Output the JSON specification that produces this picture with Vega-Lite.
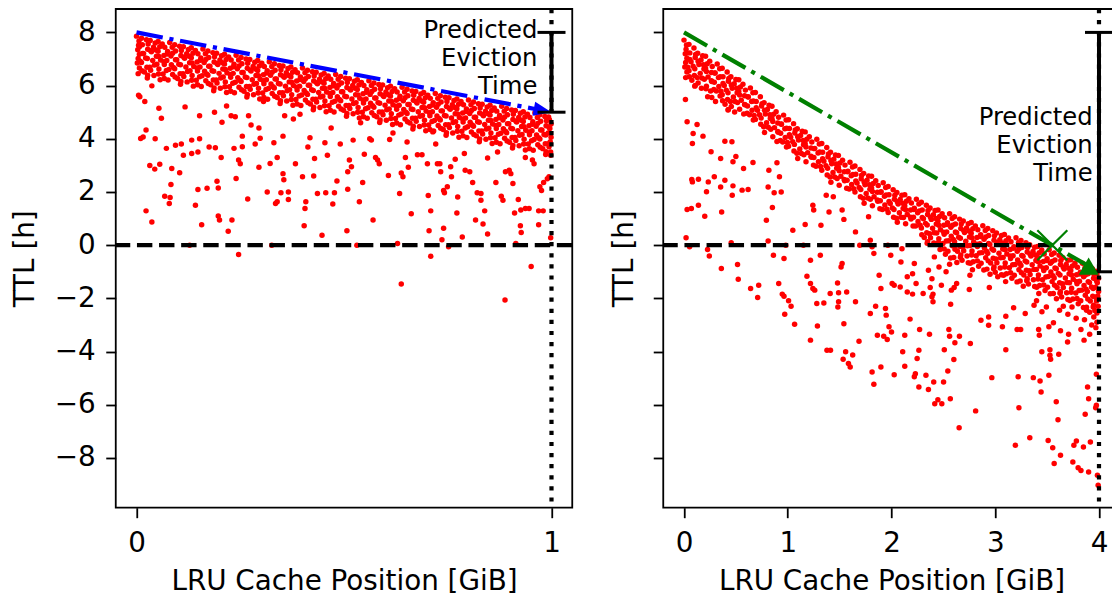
{
"$schema":"https://vega.github.io/schema/vega-lite/v6.json",
"autosize":{"type":"none"},
"padding":{"left":115.75,"top":9,"right":996.25,"bottom":587},
"background":"white",
"config":{
 "font":"DejaVu Sans",
 "view":{"stroke":"black","strokeWidth":1.8},
 "axis":{"grid":false,"domain":false,"tickColor":"black","tickWidth":1.8,"tickSize":10,"labelFont":"DejaVu Sans","labelFontSize":27.8,"labelColor":"black","titleFont":"DejaVu Sans","titleFontSize":27.8,"titleFontWeight":"normal","titleColor":"black","labelFlush":false,"labelOverlap":false}
},
"datasets":{
"L":[
{"x":0,"y":7.86},{"x":0.006,"y":7.68},{"x":0.005,"y":7.52},{"x":0.003,"y":7.35},{"x":0.007,"y":7.18},{"x":0.004,"y":7.02},{"x":0.002,"y":6.85},{"x":0.007,"y":6.66},{"x":0.004,"y":6.45},
{"x":0.024,"y":7.72},{"x":0.014,"y":7.54},{"x":0.027,"y":7.37},{"x":0.017,"y":7.21},{"x":0.022,"y":7.04},{"x":0.012,"y":6.87},{"x":0.025,"y":6.69},{"x":0.019,"y":6.51},{"x":0.026,"y":6.29},
{"x":0.033,"y":7.70},{"x":0.045,"y":7.60},{"x":0.041,"y":7.44},{"x":0.036,"y":7.27},{"x":0.048,"y":7.10},{"x":0.039,"y":6.94},{"x":0.043,"y":6.77},{"x":0.034,"y":6.58},{"x":0.042,"y":6.38},
{"x":0.062,"y":7.56},{"x":0.056,"y":7.46},{"x":0.052,"y":7.29},{"x":0.066,"y":7.13},{"x":0.058,"y":6.96},{"x":0.067,"y":6.79},{"x":0.054,"y":6.62},{"x":0.064,"y":6.44},{"x":0.057,"y":6.22},
{"x":0.080,"y":7.62},{"x":0.086,"y":7.44},{"x":0.075,"y":7.28},{"x":0.083,"y":7.11},{"x":0.073,"y":6.94},{"x":0.084,"y":6.78},{"x":0.078,"y":6.61},{"x":0.087,"y":6.42},{"x":0.076,"y":6.21},
{"x":0.104,"y":7.48},{"x":0.094,"y":7.30},{"x":0.107,"y":7.13},{"x":0.097,"y":6.97},{"x":0.102,"y":6.80},{"x":0.092,"y":6.63},{"x":0.105,"y":6.45},{"x":0.099,"y":6.27},{"x":0.106,"y":6.05},
{"x":0.113,"y":7.46},{"x":0.125,"y":7.36},{"x":0.121,"y":7.20},{"x":0.116,"y":7.03},{"x":0.128,"y":6.86},{"x":0.119,"y":6.70},{"x":0.123,"y":6.53},{"x":0.114,"y":6.34},{"x":0.122,"y":6.14},
{"x":0.142,"y":7.32},{"x":0.136,"y":7.22},{"x":0.132,"y":7.05},{"x":0.146,"y":6.89},{"x":0.138,"y":6.72},{"x":0.147,"y":6.55},{"x":0.134,"y":6.38},{"x":0.144,"y":6.20},{"x":0.137,"y":5.98},
{"x":0.160,"y":7.38},{"x":0.166,"y":7.20},{"x":0.155,"y":7.04},{"x":0.163,"y":6.87},{"x":0.153,"y":6.70},{"x":0.164,"y":6.54},{"x":0.158,"y":6.37},{"x":0.167,"y":6.18},{"x":0.156,"y":5.97},
{"x":0.184,"y":7.24},{"x":0.174,"y":7.06},{"x":0.187,"y":6.89},{"x":0.177,"y":6.73},{"x":0.182,"y":6.56},{"x":0.172,"y":6.39},{"x":0.185,"y":6.21},{"x":0.179,"y":6.03},{"x":0.186,"y":5.81},
{"x":0.193,"y":7.22},{"x":0.205,"y":7.12},{"x":0.201,"y":6.96},{"x":0.196,"y":6.79},{"x":0.208,"y":6.62},{"x":0.199,"y":6.46},{"x":0.203,"y":6.29},{"x":0.194,"y":6.10},{"x":0.202,"y":5.90},
{"x":0.222,"y":7.08},{"x":0.216,"y":6.98},{"x":0.212,"y":6.81},{"x":0.226,"y":6.65},{"x":0.218,"y":6.48},{"x":0.227,"y":6.31},{"x":0.214,"y":6.14},{"x":0.224,"y":5.96},{"x":0.217,"y":5.74},
{"x":0.240,"y":7.14},{"x":0.246,"y":6.96},{"x":0.235,"y":6.80},{"x":0.243,"y":6.63},{"x":0.233,"y":6.46},{"x":0.244,"y":6.30},{"x":0.238,"y":6.13},{"x":0.247,"y":5.94},{"x":0.236,"y":5.73},
{"x":0.264,"y":7.00},{"x":0.254,"y":6.82},{"x":0.267,"y":6.65},{"x":0.257,"y":6.49},{"x":0.262,"y":6.32},{"x":0.252,"y":6.15},{"x":0.265,"y":5.97},{"x":0.259,"y":5.79},{"x":0.266,"y":5.57},
{"x":0.273,"y":6.98},{"x":0.285,"y":6.88},{"x":0.281,"y":6.72},{"x":0.276,"y":6.55},{"x":0.288,"y":6.38},{"x":0.279,"y":6.22},{"x":0.283,"y":6.05},{"x":0.274,"y":5.86},{"x":0.282,"y":5.66},
{"x":0.302,"y":6.84},{"x":0.296,"y":6.74},{"x":0.292,"y":6.57},{"x":0.306,"y":6.41},{"x":0.298,"y":6.24},{"x":0.307,"y":6.07},{"x":0.294,"y":5.90},{"x":0.304,"y":5.72},{"x":0.297,"y":5.50},
{"x":0.320,"y":6.90},{"x":0.326,"y":6.72},{"x":0.315,"y":6.56},{"x":0.323,"y":6.39},{"x":0.313,"y":6.22},{"x":0.324,"y":6.06},{"x":0.318,"y":5.89},{"x":0.327,"y":5.70},{"x":0.316,"y":5.49},
{"x":0.344,"y":6.76},{"x":0.334,"y":6.58},{"x":0.347,"y":6.41},{"x":0.337,"y":6.25},{"x":0.342,"y":6.08},{"x":0.332,"y":5.91},{"x":0.345,"y":5.73},{"x":0.339,"y":5.55},{"x":0.346,"y":5.33},
{"x":0.353,"y":6.74},{"x":0.365,"y":6.64},{"x":0.361,"y":6.48},{"x":0.356,"y":6.31},{"x":0.368,"y":6.14},{"x":0.359,"y":5.98},{"x":0.363,"y":5.81},{"x":0.354,"y":5.62},{"x":0.362,"y":5.42},
{"x":0.382,"y":6.60},{"x":0.376,"y":6.50},{"x":0.372,"y":6.33},{"x":0.386,"y":6.17},{"x":0.378,"y":6.00},{"x":0.387,"y":5.83},{"x":0.374,"y":5.66},{"x":0.384,"y":5.48},{"x":0.377,"y":5.26},
{"x":0.400,"y":6.66},{"x":0.406,"y":6.48},{"x":0.395,"y":6.32},{"x":0.403,"y":6.15},{"x":0.393,"y":5.98},{"x":0.404,"y":5.82},{"x":0.398,"y":5.65},{"x":0.407,"y":5.46},{"x":0.396,"y":5.25},
{"x":0.424,"y":6.52},{"x":0.414,"y":6.34},{"x":0.427,"y":6.17},{"x":0.417,"y":6.01},{"x":0.422,"y":5.84},{"x":0.412,"y":5.67},{"x":0.425,"y":5.49},{"x":0.419,"y":5.31},{"x":0.426,"y":5.09},
{"x":0.433,"y":6.50},{"x":0.445,"y":6.40},{"x":0.441,"y":6.24},{"x":0.436,"y":6.07},{"x":0.448,"y":5.90},{"x":0.439,"y":5.74},{"x":0.443,"y":5.57},{"x":0.434,"y":5.38},{"x":0.442,"y":5.18},
{"x":0.462,"y":6.36},{"x":0.456,"y":6.26},{"x":0.452,"y":6.09},{"x":0.466,"y":5.93},{"x":0.458,"y":5.76},{"x":0.467,"y":5.59},{"x":0.454,"y":5.42},{"x":0.464,"y":5.24},{"x":0.457,"y":5.02},
{"x":0.480,"y":6.42},{"x":0.486,"y":6.24},{"x":0.475,"y":6.08},{"x":0.483,"y":5.91},{"x":0.473,"y":5.74},{"x":0.484,"y":5.58},{"x":0.478,"y":5.41},{"x":0.487,"y":5.22},{"x":0.476,"y":5.01},
{"x":0.504,"y":6.28},{"x":0.494,"y":6.10},{"x":0.507,"y":5.93},{"x":0.497,"y":5.77},{"x":0.502,"y":5.60},{"x":0.492,"y":5.43},{"x":0.505,"y":5.25},{"x":0.499,"y":5.07},{"x":0.506,"y":4.85},
{"x":0.513,"y":6.26},{"x":0.525,"y":6.16},{"x":0.521,"y":6.00},{"x":0.516,"y":5.83},{"x":0.528,"y":5.66},{"x":0.519,"y":5.50},{"x":0.523,"y":5.33},{"x":0.514,"y":5.14},{"x":0.522,"y":4.94},
{"x":0.542,"y":6.12},{"x":0.536,"y":6.02},{"x":0.532,"y":5.85},{"x":0.546,"y":5.69},{"x":0.538,"y":5.52},{"x":0.547,"y":5.35},{"x":0.534,"y":5.18},{"x":0.544,"y":5.00},{"x":0.537,"y":4.78},
{"x":0.560,"y":6.18},{"x":0.566,"y":6.00},{"x":0.555,"y":5.84},{"x":0.563,"y":5.67},{"x":0.553,"y":5.50},{"x":0.564,"y":5.34},{"x":0.558,"y":5.17},{"x":0.567,"y":4.98},{"x":0.556,"y":4.77},
{"x":0.584,"y":6.04},{"x":0.574,"y":5.86},{"x":0.587,"y":5.69},{"x":0.577,"y":5.53},{"x":0.582,"y":5.36},{"x":0.572,"y":5.19},{"x":0.585,"y":5.01},{"x":0.579,"y":4.83},{"x":0.586,"y":4.61},
{"x":0.593,"y":6.02},{"x":0.605,"y":5.92},{"x":0.601,"y":5.76},{"x":0.596,"y":5.59},{"x":0.608,"y":5.42},{"x":0.599,"y":5.26},{"x":0.603,"y":5.09},{"x":0.594,"y":4.90},{"x":0.602,"y":4.70},
{"x":0.622,"y":5.88},{"x":0.616,"y":5.78},{"x":0.612,"y":5.61},{"x":0.626,"y":5.45},{"x":0.618,"y":5.28},{"x":0.627,"y":5.11},{"x":0.614,"y":4.94},{"x":0.624,"y":4.76},{"x":0.617,"y":4.54},
{"x":0.640,"y":5.94},{"x":0.646,"y":5.76},{"x":0.635,"y":5.60},{"x":0.643,"y":5.43},{"x":0.633,"y":5.26},{"x":0.644,"y":5.10},{"x":0.638,"y":4.93},{"x":0.647,"y":4.74},{"x":0.636,"y":4.53},
{"x":0.664,"y":5.80},{"x":0.654,"y":5.62},{"x":0.667,"y":5.45},{"x":0.657,"y":5.29},{"x":0.662,"y":5.12},{"x":0.652,"y":4.95},{"x":0.665,"y":4.77},{"x":0.659,"y":4.59},{"x":0.666,"y":4.37},
{"x":0.673,"y":5.78},{"x":0.685,"y":5.68},{"x":0.681,"y":5.52},{"x":0.676,"y":5.35},{"x":0.688,"y":5.18},{"x":0.679,"y":5.02},{"x":0.683,"y":4.85},{"x":0.674,"y":4.66},{"x":0.682,"y":4.46},
{"x":0.702,"y":5.64},{"x":0.696,"y":5.54},{"x":0.692,"y":5.37},{"x":0.706,"y":5.21},{"x":0.698,"y":5.04},{"x":0.707,"y":4.87},{"x":0.694,"y":4.70},{"x":0.704,"y":4.52},{"x":0.697,"y":4.30},
{"x":0.720,"y":5.70},{"x":0.726,"y":5.52},{"x":0.715,"y":5.36},{"x":0.723,"y":5.19},{"x":0.713,"y":5.02},{"x":0.724,"y":4.86},{"x":0.718,"y":4.69},{"x":0.727,"y":4.50},{"x":0.716,"y":4.29},
{"x":0.744,"y":5.56},{"x":0.734,"y":5.38},{"x":0.747,"y":5.21},{"x":0.737,"y":5.05},{"x":0.742,"y":4.88},{"x":0.732,"y":4.71},{"x":0.745,"y":4.53},{"x":0.739,"y":4.35},{"x":0.746,"y":4.13},
{"x":0.753,"y":5.54},{"x":0.765,"y":5.44},{"x":0.761,"y":5.28},{"x":0.756,"y":5.11},{"x":0.768,"y":4.94},{"x":0.759,"y":4.78},{"x":0.763,"y":4.61},{"x":0.754,"y":4.42},{"x":0.762,"y":4.22},
{"x":0.782,"y":5.40},{"x":0.776,"y":5.30},{"x":0.772,"y":5.13},{"x":0.786,"y":4.97},{"x":0.778,"y":4.80},{"x":0.787,"y":4.63},{"x":0.774,"y":4.46},{"x":0.784,"y":4.28},{"x":0.777,"y":4.06},
{"x":0.800,"y":5.46},{"x":0.806,"y":5.28},{"x":0.795,"y":5.12},{"x":0.803,"y":4.95},{"x":0.793,"y":4.78},{"x":0.804,"y":4.62},{"x":0.798,"y":4.45},{"x":0.807,"y":4.26},{"x":0.796,"y":4.05},
{"x":0.824,"y":5.32},{"x":0.814,"y":5.14},{"x":0.827,"y":4.97},{"x":0.817,"y":4.81},{"x":0.822,"y":4.64},{"x":0.812,"y":4.47},{"x":0.825,"y":4.29},{"x":0.819,"y":4.11},{"x":0.826,"y":3.89},
{"x":0.833,"y":5.30},{"x":0.845,"y":5.20},{"x":0.841,"y":5.04},{"x":0.836,"y":4.87},{"x":0.848,"y":4.70},{"x":0.839,"y":4.54},{"x":0.843,"y":4.37},{"x":0.834,"y":4.18},{"x":0.842,"y":3.98},
{"x":0.862,"y":5.16},{"x":0.856,"y":5.06},{"x":0.852,"y":4.89},{"x":0.866,"y":4.73},{"x":0.858,"y":4.56},{"x":0.867,"y":4.39},{"x":0.854,"y":4.22},{"x":0.864,"y":4.04},{"x":0.857,"y":3.82},
{"x":0.880,"y":5.22},{"x":0.886,"y":5.04},{"x":0.875,"y":4.88},{"x":0.883,"y":4.71},{"x":0.873,"y":4.54},{"x":0.884,"y":4.38},{"x":0.878,"y":4.21},{"x":0.887,"y":4.02},{"x":0.876,"y":3.81},
{"x":0.904,"y":5.08},{"x":0.894,"y":4.90},{"x":0.907,"y":4.73},{"x":0.897,"y":4.57},{"x":0.902,"y":4.40},{"x":0.892,"y":4.23},{"x":0.905,"y":4.05},{"x":0.899,"y":3.87},{"x":0.906,"y":3.65},
{"x":0.913,"y":5.06},{"x":0.925,"y":4.96},{"x":0.921,"y":4.80},{"x":0.916,"y":4.63},{"x":0.928,"y":4.46},{"x":0.919,"y":4.30},{"x":0.923,"y":4.13},{"x":0.914,"y":3.94},{"x":0.922,"y":3.74},
{"x":0.942,"y":4.92},{"x":0.936,"y":4.82},{"x":0.932,"y":4.65},{"x":0.946,"y":4.49},{"x":0.938,"y":4.32},{"x":0.947,"y":4.15},{"x":0.934,"y":3.98},{"x":0.944,"y":3.80},{"x":0.937,"y":3.58},
{"x":0.960,"y":4.98},{"x":0.966,"y":4.80},{"x":0.955,"y":4.64},{"x":0.963,"y":4.47},{"x":0.953,"y":4.30},{"x":0.964,"y":4.14},{"x":0.958,"y":3.97},{"x":0.967,"y":3.78},{"x":0.956,"y":3.57},
{"x":0.984,"y":4.84},{"x":0.974,"y":4.66},{"x":0.987,"y":4.49},{"x":0.977,"y":4.33},{"x":0.982,"y":4.16},{"x":0.972,"y":3.99},{"x":0.985,"y":3.81},{"x":0.979,"y":3.63},{"x":0.986,"y":3.41},
{"x":0.993,"y":4.82},{"x":0.995,"y":4.72},{"x":0.999,"y":4.56},{"x":0.996,"y":4.39},{"x":0.992,"y":4.22},{"x":0.999,"y":4.06},{"x":0.997,"y":3.89},{"x":0.994,"y":3.70},{"x":0.998,"y":3.50},
{"x":0.012,"y":7.78},{"x":0.007,"y":7.46},{"x":0.014,"y":7.21},{"x":0.009,"y":6.92},{"x":0.013,"y":6.56},
{"x":0.028,"y":7.56},{"x":0.034,"y":7.31},{"x":0.026,"y":7.02},{"x":0.032,"y":6.69},{"x":0.027,"y":6.39},
{"x":0.052,"y":7.66},{"x":0.047,"y":7.34},{"x":0.054,"y":7.09},{"x":0.049,"y":6.80},{"x":0.053,"y":6.44},
{"x":0.068,"y":7.44},{"x":0.074,"y":7.19},{"x":0.066,"y":6.90},{"x":0.072,"y":6.57},{"x":0.067,"y":6.27},
{"x":0.092,"y":7.54},{"x":0.087,"y":7.22},{"x":0.094,"y":6.97},{"x":0.089,"y":6.68},{"x":0.093,"y":6.32},
{"x":0.108,"y":7.32},{"x":0.114,"y":7.07},{"x":0.106,"y":6.78},{"x":0.112,"y":6.45},{"x":0.107,"y":6.15},
{"x":0.132,"y":7.42},{"x":0.127,"y":7.10},{"x":0.134,"y":6.85},{"x":0.129,"y":6.56},{"x":0.133,"y":6.20},
{"x":0.148,"y":7.20},{"x":0.154,"y":6.95},{"x":0.146,"y":6.66},{"x":0.152,"y":6.33},{"x":0.147,"y":6.03},
{"x":0.172,"y":7.30},{"x":0.167,"y":6.98},{"x":0.174,"y":6.73},{"x":0.169,"y":6.44},{"x":0.173,"y":6.08},
{"x":0.188,"y":7.08},{"x":0.194,"y":6.83},{"x":0.186,"y":6.54},{"x":0.192,"y":6.21},{"x":0.187,"y":5.91},
{"x":0.212,"y":7.18},{"x":0.207,"y":6.86},{"x":0.214,"y":6.61},{"x":0.209,"y":6.32},{"x":0.213,"y":5.96},
{"x":0.228,"y":6.96},{"x":0.234,"y":6.71},{"x":0.226,"y":6.42},{"x":0.232,"y":6.09},{"x":0.227,"y":5.79},
{"x":0.252,"y":7.06},{"x":0.247,"y":6.74},{"x":0.254,"y":6.49},{"x":0.249,"y":6.20},{"x":0.253,"y":5.84},
{"x":0.268,"y":6.84},{"x":0.274,"y":6.59},{"x":0.266,"y":6.30},{"x":0.272,"y":5.97},{"x":0.267,"y":5.67},
{"x":0.292,"y":6.94},{"x":0.287,"y":6.62},{"x":0.294,"y":6.37},{"x":0.289,"y":6.08},{"x":0.293,"y":5.72},
{"x":0.308,"y":6.72},{"x":0.314,"y":6.47},{"x":0.306,"y":6.18},{"x":0.312,"y":5.85},{"x":0.307,"y":5.55},
{"x":0.332,"y":6.82},{"x":0.327,"y":6.50},{"x":0.334,"y":6.25},{"x":0.329,"y":5.96},{"x":0.333,"y":5.60},
{"x":0.348,"y":6.60},{"x":0.354,"y":6.35},{"x":0.346,"y":6.06},{"x":0.352,"y":5.73},{"x":0.347,"y":5.43},
{"x":0.372,"y":6.70},{"x":0.367,"y":6.38},{"x":0.374,"y":6.13},{"x":0.369,"y":5.84},{"x":0.373,"y":5.48},
{"x":0.388,"y":6.48},{"x":0.394,"y":6.23},{"x":0.386,"y":5.94},{"x":0.392,"y":5.61},{"x":0.387,"y":5.31},
{"x":0.412,"y":6.58},{"x":0.407,"y":6.26},{"x":0.414,"y":6.01},{"x":0.409,"y":5.72},{"x":0.413,"y":5.36},
{"x":0.428,"y":6.36},{"x":0.434,"y":6.11},{"x":0.426,"y":5.82},{"x":0.432,"y":5.49},{"x":0.427,"y":5.19},
{"x":0.452,"y":6.46},{"x":0.447,"y":6.14},{"x":0.454,"y":5.89},{"x":0.449,"y":5.60},{"x":0.453,"y":5.24},
{"x":0.468,"y":6.24},{"x":0.474,"y":5.99},{"x":0.466,"y":5.70},{"x":0.472,"y":5.37},{"x":0.467,"y":5.07},
{"x":0.492,"y":6.34},{"x":0.487,"y":6.02},{"x":0.494,"y":5.77},{"x":0.489,"y":5.48},{"x":0.493,"y":5.12},
{"x":0.508,"y":6.12},{"x":0.514,"y":5.87},{"x":0.506,"y":5.58},{"x":0.512,"y":5.25},{"x":0.507,"y":4.95},
{"x":0.532,"y":6.22},{"x":0.527,"y":5.90},{"x":0.534,"y":5.65},{"x":0.529,"y":5.36},{"x":0.533,"y":5.00},
{"x":0.548,"y":6.00},{"x":0.554,"y":5.75},{"x":0.546,"y":5.46},{"x":0.552,"y":5.13},{"x":0.547,"y":4.83},
{"x":0.572,"y":6.10},{"x":0.567,"y":5.78},{"x":0.574,"y":5.53},{"x":0.569,"y":5.24},{"x":0.573,"y":4.88},
{"x":0.588,"y":5.88},{"x":0.594,"y":5.63},{"x":0.586,"y":5.34},{"x":0.592,"y":5.01},{"x":0.587,"y":4.71},
{"x":0.612,"y":5.98},{"x":0.607,"y":5.66},{"x":0.614,"y":5.41},{"x":0.609,"y":5.12},{"x":0.613,"y":4.76},
{"x":0.628,"y":5.76},{"x":0.634,"y":5.51},{"x":0.626,"y":5.22},{"x":0.632,"y":4.89},{"x":0.627,"y":4.59},
{"x":0.652,"y":5.86},{"x":0.647,"y":5.54},{"x":0.654,"y":5.29},{"x":0.649,"y":5.00},{"x":0.653,"y":4.64},
{"x":0.668,"y":5.64},{"x":0.674,"y":5.39},{"x":0.666,"y":5.10},{"x":0.672,"y":4.77},{"x":0.667,"y":4.47},
{"x":0.692,"y":5.74},{"x":0.687,"y":5.42},{"x":0.694,"y":5.17},{"x":0.689,"y":4.88},{"x":0.693,"y":4.52},
{"x":0.708,"y":5.52},{"x":0.714,"y":5.27},{"x":0.706,"y":4.98},{"x":0.712,"y":4.65},{"x":0.707,"y":4.35},
{"x":0.732,"y":5.62},{"x":0.727,"y":5.30},{"x":0.734,"y":5.05},{"x":0.729,"y":4.76},{"x":0.733,"y":4.40},
{"x":0.748,"y":5.40},{"x":0.754,"y":5.15},{"x":0.746,"y":4.86},{"x":0.752,"y":4.53},{"x":0.747,"y":4.23},
{"x":0.772,"y":5.50},{"x":0.767,"y":5.18},{"x":0.774,"y":4.93},{"x":0.769,"y":4.64},{"x":0.773,"y":4.28},
{"x":0.788,"y":5.28},{"x":0.794,"y":5.03},{"x":0.786,"y":4.74},{"x":0.792,"y":4.41},{"x":0.787,"y":4.11},
{"x":0.812,"y":5.38},{"x":0.807,"y":5.06},{"x":0.814,"y":4.81},{"x":0.809,"y":4.52},{"x":0.813,"y":4.16},
{"x":0.828,"y":5.16},{"x":0.834,"y":4.91},{"x":0.826,"y":4.62},{"x":0.832,"y":4.29},{"x":0.827,"y":3.99},
{"x":0.852,"y":5.26},{"x":0.847,"y":4.94},{"x":0.854,"y":4.69},{"x":0.849,"y":4.40},{"x":0.853,"y":4.04},
{"x":0.868,"y":5.04},{"x":0.874,"y":4.79},{"x":0.866,"y":4.50},{"x":0.872,"y":4.17},{"x":0.867,"y":3.87},
{"x":0.892,"y":5.14},{"x":0.887,"y":4.82},{"x":0.894,"y":4.57},{"x":0.889,"y":4.28},{"x":0.893,"y":3.92},
{"x":0.908,"y":4.92},{"x":0.914,"y":4.67},{"x":0.906,"y":4.38},{"x":0.912,"y":4.05},{"x":0.907,"y":3.75},
{"x":0.932,"y":5.02},{"x":0.927,"y":4.70},{"x":0.934,"y":4.45},{"x":0.929,"y":4.16},{"x":0.933,"y":3.80},
{"x":0.948,"y":4.80},{"x":0.954,"y":4.55},{"x":0.946,"y":4.26},{"x":0.952,"y":3.93},{"x":0.947,"y":3.63},
{"x":0.972,"y":4.90},{"x":0.967,"y":4.58},{"x":0.974,"y":4.33},{"x":0.969,"y":4.04},{"x":0.973,"y":3.68},
{"x":0.988,"y":4.68},{"x":0.994,"y":4.43},{"x":0.986,"y":4.14},{"x":0.992,"y":3.81},{"x":0.987,"y":3.51},
{"x":0.005,"y":5.64},{"x":0.008,"y":5.58},{"x":0.01,"y":4.01},{"x":0.016,"y":4.07},{"x":0.023,"y":4.33},{"x":0.02,"y":5.4},{"x":0.023,"y":1.29},{"x":0.037,"y":0.87},{"x":0.037,"y":5.99},{"x":0.032,"y":3.0},
{"x":0.044,"y":2.86},{"x":0.045,"y":4.0},{"x":0.06,"y":4.77},{"x":0.054,"y":5.15},{"x":0.056,"y":3.04},{"x":0.068,"y":1.84},{"x":0.081,"y":1.79},{"x":0.079,"y":1.57},{"x":0.083,"y":2.28},{"x":0.072,"y":3.64},
{"x":0.085,"y":2.88},{"x":0.094,"y":3.76},{"x":0.108,"y":3.8},{"x":0.104,"y":2.72},{"x":0.113,"y":3.38},{"x":0.117,"y":5.2},{"x":0.128,"y":0.0},{"x":0.133,"y":3.45},{"x":0.133,"y":3.95},{"x":0.142,"y":1.5},
{"x":0.148,"y":2.09},{"x":0.148,"y":3.5},{"x":0.152,"y":4.0},{"x":0.152,"y":4.87},{"x":0.157,"y":0.77},{"x":0.17,"y":2.14},{"x":0.175,"y":3.69},{"x":0.188,"y":5.0},{"x":0.194,"y":2.4},{"x":0.197,"y":2.15},
{"x":0.197,"y":1.1},{"x":0.2,"y":0.95},{"x":0.19,"y":3.66},{"x":0.204,"y":3.3},{"x":0.206,"y":4.62},{"x":0.217,"y":5.23},{"x":0.221,"y":0.52},{"x":0.23,"y":0.95},{"x":0.228,"y":4.87},{"x":0.235,"y":3.64},
{"x":0.24,"y":2.51},{"x":0.238,"y":4.83},{"x":0.246,"y":-0.35},{"x":0.246,"y":3.2},{"x":0.25,"y":3.06},{"x":0.255,"y":3.7},{"x":0.255,"y":4.1},{"x":0.268,"y":1.74},{"x":0.27,"y":4.87},{"x":0.276,"y":4.52},
{"x":0.286,"y":3.8},{"x":0.295,"y":4.41},{"x":0.295,"y":2.93},{"x":0.298,"y":4.02},{"x":0.306,"y":5.4},{"x":0.315,"y":2.0},{"x":0.322,"y":3.07},{"x":0.326,"y":0.0},{"x":0.331,"y":3.85},{"x":0.335,"y":1.57},
{"x":0.339,"y":1.63},{"x":0.339,"y":3.3},{"x":0.348,"y":1.97},{"x":0.353,"y":2.69},{"x":0.355,"y":2.46},{"x":0.353,"y":4.1},{"x":0.357,"y":4.87},{"x":0.366,"y":2.0},{"x":0.366,"y":1.72},{"x":0.378,"y":4.74},
{"x":0.383,"y":3.06},{"x":0.394,"y":4.92},{"x":0.4,"y":2.57},{"x":0.404,"y":0.73},{"x":0.406,"y":1.38},{"x":0.408,"y":1.63},{"x":0.413,"y":3.69},{"x":0.418,"y":4.04},{"x":0.427,"y":2.6},{"x":0.429,"y":3.26},
{"x":0.436,"y":1.94},{"x":0.447,"y":0.37},{"x":0.454,"y":3.85},{"x":0.456,"y":1.97},{"x":0.46,"y":3.38},{"x":0.469,"y":4.41},{"x":0.473,"y":1.55},{"x":0.477,"y":1.97},{"x":0.483,"y":2.41},{"x":0.491,"y":3.8},
{"x":0.507,"y":0.54},{"x":0.509,"y":2.1},{"x":0.509,"y":2.76},{"x":0.513,"y":3.2},{"x":0.518,"y":2.95},{"x":0.522,"y":3.95},{"x":0.531,"y":0.0},{"x":0.537,"y":1.63},{"x":0.54,"y":4.6},{"x":0.545,"y":2.36},
{"x":0.549,"y":3.42},{"x":0.562,"y":4.0},{"x":0.566,"y":3.95},{"x":0.57,"y":0.95},{"x":0.576,"y":3.3},{"x":0.581,"y":3.2},{"x":0.585,"y":3.06},{"x":0.607,"y":2.62},{"x":0.61,"y":3.97},{"x":0.618,"y":4.22},
{"x":0.629,"y":0.06},{"x":0.634,"y":1.94},{"x":0.638,"y":-1.46},{"x":0.638,"y":2.71},{"x":0.642,"y":2.57},{"x":0.648,"y":3.3},{"x":0.652,"y":3.88},{"x":0.655,"y":2.93},{"x":0.662,"y":1.18},{"x":0.677,"y":3.4},
{"x":0.688,"y":3.4},{"x":0.701,"y":3.06},{"x":0.703,"y":1.87},{"x":0.705,"y":0.54},{"x":0.709,"y":1.29},{"x":0.709,"y":-0.42},{"x":0.714,"y":4.26},{"x":0.721,"y":3.8},{"x":0.725,"y":3.06},{"x":0.731,"y":3.06},
{"x":0.733,"y":2.76},{"x":0.736,"y":0.2},{"x":0.74,"y":0.64},{"x":0.752,"y":-0.06},{"x":0.74,"y":2.06},{"x":0.742,"y":1.97},{"x":0.749,"y":2.2},{"x":0.757,"y":2.95},{"x":0.759,"y":2.57},{"x":0.768,"y":3.23},
{"x":0.772,"y":1.21},{"x":0.774,"y":1.81},{"x":0.785,"y":0.31},{"x":0.79,"y":3.45},{"x":0.792,"y":2.82},{"x":0.803,"y":2.76},{"x":0.81,"y":2.36},{"x":0.817,"y":0.95},{"x":0.821,"y":1.97},{"x":0.83,"y":1.94},
{"x":0.83,"y":1.69},{"x":0.835,"y":0.8},{"x":0.839,"y":1.29},{"x":0.846,"y":0.42},{"x":0.846,"y":3.28},{"x":0.866,"y":2.36},{"x":0.87,"y":3.5},{"x":0.879,"y":1.84},{"x":0.883,"y":1.69},{"x":0.888,"y":-2.06},
{"x":0.889,"y":2.76},{"x":0.898,"y":2.82},{"x":0.902,"y":2.69},{"x":0.907,"y":2.32},{"x":0.911,"y":1.21},{"x":0.914,"y":0.06},{"x":0.92,"y":1.72},{"x":0.925,"y":0.73},{"x":0.927,"y":0.48},{"x":0.926,"y":1.32},
{"x":0.937,"y":3.3},{"x":0.937,"y":1.38},{"x":0.946,"y":1.38},{"x":0.951,"y":-0.8},{"x":0.954,"y":3.2},{"x":0.958,"y":3.06},{"x":0.969,"y":0.77},{"x":0.969,"y":1.29},{"x":0.98,"y":1.29},{"x":0.972,"y":2.2},
{"x":0.976,"y":2.06},{"x":0.981,"y":2.36},{"x":0.99,"y":2.5},{"x":0.994,"y":2.57},{"x":0.998,"y":0.28},{"x":0.998,"y":3.38}
],
"R":[
{"x":0,"y":7.71},{"x":0.024,"y":7.53},{"x":0.02,"y":7.37},{"x":0.012,"y":7.20},{"x":0.028,"y":7.03},{"x":0.016,"y":6.87},{"x":0.008,"y":6.70},{"x":0.028,"y":6.51},{"x":0.016,"y":6.30},
{"x":0.096,"y":7.41},{"x":0.056,"y":7.23},{"x":0.108,"y":7.06},{"x":0.068,"y":6.90},{"x":0.088,"y":6.73},{"x":0.048,"y":6.56},{"x":0.1,"y":6.38},{"x":0.076,"y":6.20},{"x":0.104,"y":5.98},
{"x":0.132,"y":7.22},{"x":0.18,"y":7.12},{"x":0.164,"y":6.96},{"x":0.144,"y":6.79},{"x":0.192,"y":6.62},{"x":0.156,"y":6.46},{"x":0.172,"y":6.29},{"x":0.136,"y":6.10},{"x":0.168,"y":5.90},
{"x":0.248,"y":6.92},{"x":0.224,"y":6.82},{"x":0.208,"y":6.65},{"x":0.264,"y":6.49},{"x":0.232,"y":6.32},{"x":0.268,"y":6.15},{"x":0.216,"y":5.98},{"x":0.256,"y":5.80},{"x":0.228,"y":5.58},
{"x":0.32,"y":6.81},{"x":0.344,"y":6.63},{"x":0.3,"y":6.47},{"x":0.332,"y":6.30},{"x":0.292,"y":6.13},{"x":0.336,"y":5.97},{"x":0.312,"y":5.80},{"x":0.348,"y":5.61},{"x":0.304,"y":5.40},
{"x":0.416,"y":6.51},{"x":0.376,"y":6.33},{"x":0.428,"y":6.16},{"x":0.388,"y":6.00},{"x":0.408,"y":5.83},{"x":0.368,"y":5.66},{"x":0.42,"y":5.48},{"x":0.396,"y":5.30},{"x":0.424,"y":5.08},
{"x":0.452,"y":6.33},{"x":0.5,"y":6.23},{"x":0.484,"y":6.07},{"x":0.464,"y":5.90},{"x":0.512,"y":5.73},{"x":0.476,"y":5.57},{"x":0.492,"y":5.40},{"x":0.456,"y":5.21},{"x":0.488,"y":5.01},
{"x":0.568,"y":6.05},{"x":0.544,"y":5.95},{"x":0.528,"y":5.78},{"x":0.584,"y":5.62},{"x":0.552,"y":5.45},{"x":0.588,"y":5.28},{"x":0.536,"y":5.11},{"x":0.576,"y":4.93},
{"x":0.64,"y":5.91},{"x":0.664,"y":5.73},{"x":0.62,"y":5.57},{"x":0.652,"y":5.40},{"x":0.612,"y":5.23},{"x":0.656,"y":5.07},{"x":0.632,"y":4.90},{"x":0.668,"y":4.71},
{"x":0.736,"y":5.58},{"x":0.696,"y":5.40},{"x":0.748,"y":5.23},{"x":0.708,"y":5.07},{"x":0.728,"y":4.90},{"x":0.688,"y":4.73},{"x":0.74,"y":4.55},
{"x":0.772,"y":5.36},{"x":0.82,"y":5.26},{"x":0.804,"y":5.10},{"x":0.784,"y":4.93},{"x":0.832,"y":4.76},{"x":0.796,"y":4.60},{"x":0.812,"y":4.43},{"x":0.776,"y":4.24},
{"x":0.888,"y":5.02},{"x":0.864,"y":4.92},{"x":0.848,"y":4.75},{"x":0.904,"y":4.59},{"x":0.872,"y":4.42},{"x":0.908,"y":4.25},{"x":0.856,"y":4.08},{"x":0.896,"y":3.90},
{"x":0.96,"y":4.89},{"x":0.984,"y":4.71},{"x":0.94,"y":4.55},{"x":0.972,"y":4.38},{"x":0.932,"y":4.21},{"x":0.976,"y":4.05},{"x":0.952,"y":3.88},{"x":0.988,"y":3.69},
{"x":1.056,"y":4.57},{"x":1.016,"y":4.39},{"x":1.068,"y":4.22},{"x":1.028,"y":4.06},{"x":1.048,"y":3.89},{"x":1.008,"y":3.72},{"x":1.06,"y":3.54},
{"x":1.092,"y":4.38},{"x":1.14,"y":4.28},{"x":1.124,"y":4.12},{"x":1.104,"y":3.95},{"x":1.152,"y":3.78},{"x":1.116,"y":3.62},{"x":1.132,"y":3.45},{"x":1.096,"y":3.26},
{"x":1.208,"y":4.08},{"x":1.184,"y":3.98},{"x":1.168,"y":3.81},{"x":1.224,"y":3.65},{"x":1.192,"y":3.48},{"x":1.228,"y":3.31},{"x":1.176,"y":3.14},
{"x":1.28,"y":3.98},{"x":1.304,"y":3.80},{"x":1.26,"y":3.64},{"x":1.292,"y":3.47},{"x":1.252,"y":3.30},{"x":1.296,"y":3.14},{"x":1.272,"y":2.97},
{"x":1.376,"y":3.67},{"x":1.336,"y":3.49},{"x":1.388,"y":3.32},{"x":1.348,"y":3.16},{"x":1.368,"y":2.99},{"x":1.328,"y":2.82},{"x":1.38,"y":2.64},
{"x":1.412,"y":3.49},{"x":1.46,"y":3.39},{"x":1.444,"y":3.23},{"x":1.424,"y":3.06},{"x":1.472,"y":2.89},{"x":1.436,"y":2.73},{"x":1.452,"y":2.56},{"x":1.416,"y":2.37},
{"x":1.528,"y":3.19},{"x":1.504,"y":3.09},{"x":1.488,"y":2.92},{"x":1.544,"y":2.76},{"x":1.512,"y":2.59},{"x":1.548,"y":2.42},{"x":1.496,"y":2.25},
{"x":1.6,"y":3.12},{"x":1.624,"y":2.94},{"x":1.58,"y":2.78},{"x":1.612,"y":2.61},{"x":1.572,"y":2.44},{"x":1.616,"y":2.28},{"x":1.592,"y":2.11},
{"x":1.696,"y":2.85},{"x":1.656,"y":2.67},{"x":1.708,"y":2.50},{"x":1.668,"y":2.34},{"x":1.688,"y":2.17},{"x":1.648,"y":2.00},{"x":1.7,"y":1.82},
{"x":1.732,"y":2.70},{"x":1.78,"y":2.60},{"x":1.764,"y":2.44},{"x":1.744,"y":2.27},{"x":1.792,"y":2.10},{"x":1.756,"y":1.94},{"x":1.772,"y":1.77},{"x":1.736,"y":1.58},
{"x":1.848,"y":2.42},{"x":1.824,"y":2.32},{"x":1.808,"y":2.15},{"x":1.864,"y":1.99},{"x":1.832,"y":1.82},{"x":1.868,"y":1.65},{"x":1.816,"y":1.48},
{"x":1.92,"y":2.35},{"x":1.944,"y":2.17},{"x":1.9,"y":2.01},{"x":1.932,"y":1.84},{"x":1.892,"y":1.67},{"x":1.936,"y":1.51},{"x":1.912,"y":1.34},
{"x":2.016,"y":2.08},{"x":1.976,"y":1.90},{"x":2.028,"y":1.73},{"x":1.988,"y":1.57},{"x":2.008,"y":1.40},{"x":1.968,"y":1.23},{"x":2.02,"y":1.05},
{"x":2.052,"y":1.98},{"x":2.1,"y":1.88},{"x":2.084,"y":1.72},{"x":2.064,"y":1.55},{"x":2.112,"y":1.38},{"x":2.076,"y":1.22},{"x":2.092,"y":1.05},{"x":2.056,"y":0.86},
{"x":2.168,"y":1.75},{"x":2.144,"y":1.65},{"x":2.128,"y":1.48},{"x":2.184,"y":1.32},{"x":2.152,"y":1.15},{"x":2.188,"y":0.98},{"x":2.136,"y":0.81},
{"x":2.24,"y":1.73},{"x":2.264,"y":1.55},{"x":2.22,"y":1.39},{"x":2.252,"y":1.22},{"x":2.212,"y":1.05},{"x":2.256,"y":0.89},{"x":2.232,"y":0.72},
{"x":2.336,"y":1.50},{"x":2.296,"y":1.32},{"x":2.348,"y":1.15},{"x":2.308,"y":0.99},{"x":2.328,"y":0.82},{"x":2.288,"y":0.65},{"x":2.34,"y":0.47},{"x":2.316,"y":0.29},{"x":2.344,"y":0.07},
{"x":2.372,"y":1.40},{"x":2.42,"y":1.30},{"x":2.404,"y":1.14},{"x":2.384,"y":0.97},{"x":2.432,"y":0.80},{"x":2.396,"y":0.64},{"x":2.412,"y":0.47},{"x":2.376,"y":0.28},{"x":2.408,"y":0.08},
{"x":2.488,"y":1.18},{"x":2.464,"y":1.08},{"x":2.448,"y":0.91},{"x":2.504,"y":0.75},{"x":2.472,"y":0.58},{"x":2.508,"y":0.41},{"x":2.456,"y":0.24},{"x":2.496,"y":0.06},{"x":2.468,"y":-0.16},
{"x":2.56,"y":1.18},{"x":2.584,"y":1.00},{"x":2.54,"y":0.84},{"x":2.572,"y":0.67},{"x":2.532,"y":0.50},{"x":2.576,"y":0.34},{"x":2.552,"y":0.17},{"x":2.588,"y":-0.02},{"x":2.544,"y":-0.23},{"x":2.57,"y":-0.48},
{"x":2.656,"y":0.98},{"x":2.616,"y":0.80},{"x":2.668,"y":0.63},{"x":2.628,"y":0.47},{"x":2.648,"y":0.30},{"x":2.608,"y":0.13},{"x":2.66,"y":-0.05},{"x":2.636,"y":-0.23},{"x":2.664,"y":-0.45},{"x":2.63,"y":-0.65},
{"x":2.692,"y":0.91},{"x":2.74,"y":0.81},{"x":2.724,"y":0.65},{"x":2.704,"y":0.48},{"x":2.752,"y":0.31},{"x":2.716,"y":0.15},{"x":2.732,"y":-0.02},{"x":2.696,"y":-0.21},{"x":2.728,"y":-0.41},{"x":2.74,"y":-0.66},
{"x":2.808,"y":0.72},{"x":2.784,"y":0.62},{"x":2.768,"y":0.45},{"x":2.824,"y":0.29},{"x":2.792,"y":0.12},{"x":2.828,"y":-0.05},{"x":2.776,"y":-0.22},{"x":2.816,"y":-0.40},{"x":2.788,"y":-0.62},{"x":2.78,"y":-0.92},
{"x":2.88,"y":0.73},{"x":2.904,"y":0.55},{"x":2.86,"y":0.39},{"x":2.892,"y":0.22},{"x":2.852,"y":0.05},{"x":2.896,"y":-0.11},{"x":2.872,"y":-0.28},{"x":2.908,"y":-0.47},{"x":2.864,"y":-0.68},{"x":2.89,"y":-0.93},
{"x":2.976,"y":0.54},{"x":2.936,"y":0.36},{"x":2.988,"y":0.19},{"x":2.948,"y":0.03},{"x":2.968,"y":-0.14},{"x":2.928,"y":-0.31},{"x":2.98,"y":-0.49},{"x":2.956,"y":-0.67},{"x":2.984,"y":-0.89},{"x":2.95,"y":-1.09},
{"x":3.012,"y":0.46},{"x":3.06,"y":0.36},{"x":3.044,"y":0.20},{"x":3.024,"y":0.03},{"x":3.072,"y":-0.14},{"x":3.036,"y":-0.30},{"x":3.052,"y":-0.47},{"x":3.016,"y":-0.66},{"x":3.048,"y":-0.86},{"x":3.06,"y":-1.11},
{"x":3.128,"y":0.27},{"x":3.104,"y":0.17},{"x":3.088,"y":0.00},{"x":3.144,"y":-0.16},{"x":3.112,"y":-0.33},{"x":3.148,"y":-0.50},{"x":3.096,"y":-0.67},{"x":3.136,"y":-0.85},{"x":3.108,"y":-1.07},{"x":3.1,"y":-1.37},
{"x":3.2,"y":0.28},{"x":3.224,"y":0.10},{"x":3.18,"y":-0.06},{"x":3.212,"y":-0.23},{"x":3.172,"y":-0.40},{"x":3.216,"y":-0.56},{"x":3.192,"y":-0.73},{"x":3.228,"y":-0.92},{"x":3.184,"y":-1.13},{"x":3.21,"y":-1.38},
{"x":3.296,"y":0.09},{"x":3.256,"y":-0.09},{"x":3.308,"y":-0.26},{"x":3.268,"y":-0.42},{"x":3.288,"y":-0.59},{"x":3.248,"y":-0.76},{"x":3.3,"y":-0.94},{"x":3.276,"y":-1.12},{"x":3.304,"y":-1.34},{"x":3.27,"y":-1.54},
{"x":3.332,"y":0.02},{"x":3.38,"y":-0.08},{"x":3.364,"y":-0.24},{"x":3.344,"y":-0.41},{"x":3.392,"y":-0.58},{"x":3.356,"y":-0.74},{"x":3.372,"y":-0.91},{"x":3.336,"y":-1.10},{"x":3.368,"y":-1.30},{"x":3.38,"y":-1.55},
{"x":3.448,"y":-0.18},{"x":3.424,"y":-0.28},{"x":3.408,"y":-0.45},{"x":3.464,"y":-0.61},{"x":3.432,"y":-0.78},{"x":3.468,"y":-0.95},{"x":3.416,"y":-1.12},{"x":3.456,"y":-1.30},{"x":3.428,"y":-1.52},{"x":3.42,"y":-1.82},
{"x":3.52,"y":-0.17},{"x":3.544,"y":-0.35},{"x":3.5,"y":-0.51},{"x":3.532,"y":-0.68},{"x":3.492,"y":-0.85},{"x":3.536,"y":-1.01},{"x":3.512,"y":-1.18},{"x":3.548,"y":-1.37},{"x":3.504,"y":-1.58},{"x":3.53,"y":-1.83},
{"x":3.616,"y":-0.38},{"x":3.576,"y":-0.56},{"x":3.628,"y":-0.73},{"x":3.588,"y":-0.89},{"x":3.608,"y":-1.06},{"x":3.568,"y":-1.23},{"x":3.62,"y":-1.41},{"x":3.596,"y":-1.59},{"x":3.624,"y":-1.81},{"x":3.59,"y":-2.01},
{"x":3.652,"y":-0.47},{"x":3.7,"y":-0.57},{"x":3.684,"y":-0.73},{"x":3.664,"y":-0.90},{"x":3.712,"y":-1.07},{"x":3.676,"y":-1.23},{"x":3.692,"y":-1.40},{"x":3.656,"y":-1.59},{"x":3.688,"y":-1.79},{"x":3.70,"y":-2.04},
{"x":3.768,"y":-0.68},{"x":3.744,"y":-0.78},{"x":3.728,"y":-0.95},{"x":3.784,"y":-1.11},{"x":3.752,"y":-1.28},{"x":3.788,"y":-1.45},{"x":3.736,"y":-1.62},{"x":3.776,"y":-1.80},{"x":3.748,"y":-2.02},{"x":3.74,"y":-2.32},
{"x":3.84,"y":-0.68},{"x":3.864,"y":-0.86},{"x":3.82,"y":-1.02},{"x":3.852,"y":-1.19},{"x":3.812,"y":-1.36},{"x":3.856,"y":-1.52},{"x":3.832,"y":-1.69},{"x":3.868,"y":-1.88},{"x":3.824,"y":-2.09},{"x":3.85,"y":-2.34},
{"x":3.936,"y":-0.89},{"x":3.896,"y":-1.07},{"x":3.948,"y":-1.24},{"x":3.908,"y":-1.40},{"x":3.928,"y":-1.57},{"x":3.888,"y":-1.74},{"x":3.94,"y":-1.92},{"x":3.916,"y":-2.10},{"x":3.944,"y":-2.32},{"x":3.91,"y":-2.52},
{"x":3.972,"y":-0.98},{"x":3.98,"y":-1.08},{"x":3.996,"y":-1.24},{"x":3.984,"y":-1.41},{"x":3.968,"y":-1.58},{"x":3.996,"y":-1.74},{"x":3.988,"y":-1.91},{"x":3.976,"y":-2.10},{"x":3.992,"y":-2.30},{"x":3.98,"y":-2.55},
{"x":0.048,"y":7.55},{"x":0.028,"y":7.23},{"x":0.056,"y":6.98},{"x":0.036,"y":6.69},{"x":0.052,"y":6.33},
{"x":0.112,"y":7.17},{"x":0.136,"y":6.92},{"x":0.104,"y":6.63},{"x":0.128,"y":6.30},{"x":0.108,"y":6.00},
{"x":0.208,"y":7.10},{"x":0.188,"y":6.78},{"x":0.216,"y":6.53},{"x":0.196,"y":6.24},{"x":0.212,"y":5.88},
{"x":0.272,"y":6.72},{"x":0.296,"y":6.47},{"x":0.264,"y":6.18},{"x":0.288,"y":5.85},{"x":0.268,"y":5.55},
{"x":0.368,"y":6.65},{"x":0.348,"y":6.33},{"x":0.376,"y":6.08},{"x":0.356,"y":5.79},{"x":0.372,"y":5.43},
{"x":0.432,"y":6.27},{"x":0.456,"y":6.02},{"x":0.424,"y":5.73},{"x":0.448,"y":5.40},{"x":0.428,"y":5.10},
{"x":0.528,"y":6.22},{"x":0.508,"y":5.90},{"x":0.536,"y":5.65},{"x":0.516,"y":5.36},
{"x":0.592,"y":5.83},{"x":0.616,"y":5.58},{"x":0.584,"y":5.29},{"x":0.608,"y":4.96},
{"x":0.688,"y":5.74},{"x":0.668,"y":5.42},{"x":0.696,"y":5.17},{"x":0.676,"y":4.88},
{"x":0.752,"y":5.32},{"x":0.776,"y":5.07},{"x":0.744,"y":4.78},{"x":0.768,"y":4.45},
{"x":0.848,"y":5.22},{"x":0.828,"y":4.90},{"x":0.856,"y":4.65},{"x":0.836,"y":4.36},
{"x":0.912,"y":4.81},{"x":0.936,"y":4.56},{"x":0.904,"y":4.27},{"x":0.928,"y":3.94},
{"x":1.008,"y":4.72},{"x":0.988,"y":4.40},{"x":1.016,"y":4.15},{"x":0.996,"y":3.86},
{"x":1.072,"y":4.33},{"x":1.096,"y":4.08},{"x":1.064,"y":3.79},{"x":1.088,"y":3.46},
{"x":1.168,"y":4.26},{"x":1.148,"y":3.94},{"x":1.176,"y":3.69},{"x":1.156,"y":3.40},
{"x":1.232,"y":3.88},{"x":1.256,"y":3.63},{"x":1.224,"y":3.34},{"x":1.248,"y":3.01},
{"x":1.328,"y":3.82},{"x":1.308,"y":3.50},{"x":1.336,"y":3.25},{"x":1.316,"y":2.96},
{"x":1.392,"y":3.43},{"x":1.416,"y":3.18},{"x":1.384,"y":2.89},{"x":1.408,"y":2.56},
{"x":1.488,"y":3.37},{"x":1.468,"y":3.05},{"x":1.496,"y":2.80},{"x":1.476,"y":2.51},
{"x":1.552,"y":3.01},{"x":1.576,"y":2.76},{"x":1.544,"y":2.47},{"x":1.568,"y":2.14},
{"x":1.648,"y":2.98},{"x":1.628,"y":2.66},{"x":1.656,"y":2.41},{"x":1.636,"y":2.12},
{"x":1.712,"y":2.63},{"x":1.736,"y":2.38},{"x":1.704,"y":2.09},{"x":1.728,"y":1.76},
{"x":1.808,"y":2.59},{"x":1.788,"y":2.27},{"x":1.816,"y":2.02},{"x":1.796,"y":1.73},
{"x":1.872,"y":2.24},{"x":1.896,"y":1.99},{"x":1.864,"y":1.70},{"x":1.888,"y":1.37},
{"x":1.968,"y":2.21},{"x":1.948,"y":1.89},{"x":1.976,"y":1.64},{"x":1.956,"y":1.35},
{"x":2.032,"y":1.88},{"x":2.056,"y":1.63},{"x":2.024,"y":1.34},{"x":2.048,"y":1.01},
{"x":2.128,"y":1.90},{"x":2.108,"y":1.58},{"x":2.136,"y":1.33},{"x":2.116,"y":1.04},
{"x":2.192,"y":1.59},{"x":2.216,"y":1.34},{"x":2.184,"y":1.05},{"x":2.208,"y":0.72},
{"x":2.288,"y":1.61},{"x":2.268,"y":1.29},{"x":2.296,"y":1.04},{"x":2.276,"y":0.75},{"x":2.292,"y":0.39},
{"x":2.352,"y":1.30},{"x":2.376,"y":1.05},{"x":2.344,"y":0.76},{"x":2.368,"y":0.43},{"x":2.348,"y":0.13},
{"x":2.448,"y":1.32},{"x":2.428,"y":1.00},{"x":2.456,"y":0.75},{"x":2.436,"y":0.46},{"x":2.452,"y":0.10},
{"x":2.512,"y":1.03},{"x":2.536,"y":0.78},{"x":2.504,"y":0.49},{"x":2.528,"y":0.16},{"x":2.508,"y":-0.14},{"x":2.52,"y":-0.34},
{"x":2.608,"y":1.07},{"x":2.588,"y":0.75},{"x":2.616,"y":0.50},{"x":2.596,"y":0.21},{"x":2.612,"y":-0.15},{"x":2.60,"y":-0.46},
{"x":2.672,"y":0.80},{"x":2.696,"y":0.55},{"x":2.664,"y":0.26},{"x":2.688,"y":-0.07},{"x":2.668,"y":-0.37},{"x":2.68,"y":-0.57},
{"x":2.768,"y":0.85},{"x":2.748,"y":0.53},{"x":2.776,"y":0.28},{"x":2.756,"y":-0.01},{"x":2.772,"y":-0.37},{"x":2.76,"y":-0.68},
{"x":2.832,"y":0.58},{"x":2.856,"y":0.33},{"x":2.824,"y":0.04},{"x":2.848,"y":-0.29},{"x":2.828,"y":-0.59},{"x":2.84,"y":-0.79},
{"x":2.928,"y":0.63},{"x":2.908,"y":0.31},{"x":2.936,"y":0.06},{"x":2.916,"y":-0.23},{"x":2.932,"y":-0.59},{"x":2.92,"y":-0.90},
{"x":2.992,"y":0.35},{"x":3.016,"y":0.10},{"x":2.984,"y":-0.19},{"x":3.008,"y":-0.52},{"x":2.988,"y":-0.82},{"x":3.00,"y":-1.02},
{"x":3.088,"y":0.40},{"x":3.068,"y":0.08},{"x":3.096,"y":-0.17},{"x":3.076,"y":-0.46},{"x":3.092,"y":-0.82},{"x":3.08,"y":-1.13},
{"x":3.152,"y":0.13},{"x":3.176,"y":-0.12},{"x":3.144,"y":-0.41},{"x":3.168,"y":-0.74},{"x":3.148,"y":-1.04},{"x":3.16,"y":-1.24},
{"x":3.248,"y":0.18},{"x":3.228,"y":-0.14},{"x":3.256,"y":-0.39},{"x":3.236,"y":-0.68},{"x":3.252,"y":-1.04},{"x":3.24,"y":-1.35},
{"x":3.312,"y":-0.09},{"x":3.336,"y":-0.34},{"x":3.304,"y":-0.63},{"x":3.328,"y":-0.96},{"x":3.308,"y":-1.26},{"x":3.32,"y":-1.46},
{"x":3.408,"y":-0.05},{"x":3.388,"y":-0.37},{"x":3.416,"y":-0.62},{"x":3.396,"y":-0.91},{"x":3.412,"y":-1.27},{"x":3.40,"y":-1.58},
{"x":3.472,"y":-0.33},{"x":3.496,"y":-0.58},{"x":3.464,"y":-0.87},{"x":3.488,"y":-1.20},{"x":3.468,"y":-1.50},{"x":3.48,"y":-1.70},
{"x":3.568,"y":-0.29},{"x":3.548,"y":-0.61},{"x":3.576,"y":-0.86},{"x":3.556,"y":-1.15},{"x":3.572,"y":-1.51},{"x":3.56,"y":-1.82},
{"x":3.632,"y":-0.58},{"x":3.656,"y":-0.83},{"x":3.624,"y":-1.12},{"x":3.648,"y":-1.45},{"x":3.628,"y":-1.75},{"x":3.64,"y":-1.95},
{"x":3.728,"y":-0.55},{"x":3.708,"y":-0.87},{"x":3.736,"y":-1.12},{"x":3.716,"y":-1.41},{"x":3.732,"y":-1.77},{"x":3.72,"y":-2.08},
{"x":3.792,"y":-0.83},{"x":3.816,"y":-1.08},{"x":3.784,"y":-1.37},{"x":3.808,"y":-1.70},{"x":3.788,"y":-2.00},{"x":3.80,"y":-2.20},
{"x":3.888,"y":-0.80},{"x":3.868,"y":-1.12},{"x":3.896,"y":-1.37},{"x":3.876,"y":-1.66},{"x":3.892,"y":-2.02},{"x":3.88,"y":-2.33},
{"x":3.952,"y":-1.09},{"x":3.976,"y":-1.34},{"x":3.944,"y":-1.63},{"x":3.968,"y":-1.96},{"x":3.948,"y":-2.26},{"x":3.96,"y":-2.46},
{"x":0.014,"y":5.48},{"x":0.03,"y":4.64},{"x":0.126,"y":4.54},{"x":0.088,"y":4.2},{"x":0.183,"y":4.1},{"x":0.081,"y":3.82},{"x":0.394,"y":3.91},{"x":0.462,"y":3.89},{"x":0.261,"y":3.51},{"x":0.353,"y":3.26},
{"x":0.472,"y":3.14},{"x":0.5,"y":3.33},{"x":0.574,"y":2.88},{"x":0.665,"y":3.11},{"x":0.081,"y":2.38},{"x":0.075,"y":2.47},{"x":0.139,"y":2.48},{"x":0.234,"y":2.38},{"x":0.292,"y":2.57},{"x":0.394,"y":2.44},
{"x":0.217,"y":2.01},{"x":0.353,"y":2.19},{"x":0.472,"y":2.23},{"x":0.56,"y":2.07},{"x":0.618,"y":2.09},{"x":0.465,"y":1.88},{"x":0.03,"y":1.34},{"x":0.071,"y":1.38},{"x":0.139,"y":1.5},{"x":0.2,"y":1.09},
{"x":0.363,"y":1.25},{"x":0.02,"y":0.28},{"x":0.054,"y":-0.06},{"x":0.227,"y":-0.16},{"x":0.244,"y":-0.41},{"x":0.455,"y":0.09},{"x":0.36,"y":-0.88},{"x":0.516,"y":-0.73},{"x":0.523,"y":-1.28},{"x":0.642,"y":-1.63},
{"x":0.72,"y":-1.51},{"x":0.71,"y":-1.97},{"x":0.811,"y":2.19},{"x":0.869,"y":1.97},{"x":0.818,"y":2.82},{"x":0.896,"y":3.1},{"x":0.92,"y":2.57},{"x":0.852,"y":1.42},{"x":0.937,"y":2.0},{"x":0.794,"y":0.94},
{"x":0.811,"y":0.16},{"x":0.862,"y":-0.38},{"x":0.964,"y":-0.5},{"x":0.981,"y":0.0},{"x":0.913,"y":-1.44},{"x":0.947,"y":-1.84},{"x":1.049,"y":0.56},{"x":1.151,"y":0.0},{"x":1.168,"y":0.78},{"x":1.242,"y":1.5},
{"x":1.25,"y":1.32},{"x":1.185,"y":-1.17},{"x":1.219,"y":-1.44},{"x":1.219,"y":-0.57},{"x":1.314,"y":-0.38},{"x":1.32,"y":0.75},{"x":1.371,"y":1.88},{"x":1.398,"y":1.25},{"x":1.439,"y":1.82},{"x":1.524,"y":1.32},
{"x":1.541,"y":0.97},{"x":1.524,"y":-0.69},{"x":1.514,"y":-0.82},{"x":1.49,"y":-1.79},{"x":1.653,"y":0.5},{"x":1.694,"y":0.0},{"x":1.779,"y":1.07},{"x":1.796,"y":0.19},{"x":1.813,"y":-0.06},{"x":1.83,"y":-0.31},
{"x":1.881,"y":-1.13},{"x":1.898,"y":-1.63},{"x":1.965,"y":0.0},{"x":1.993,"y":-0.38},{"x":2.006,"y":-1.44},{"x":2.026,"y":-1.51},{"x":2.084,"y":-1.57},{"x":2.091,"y":-0.63},{"x":2.101,"y":-0.13},{"x":2.152,"y":-1.19},
{"x":2.203,"y":-1.07},{"x":2.22,"y":-0.69},{"x":2.237,"y":-1.44},{"x":2.305,"y":-1.82},{"x":2.356,"y":-0.94},{"x":2.39,"y":-1.26},{"x":2.4,"y":-1.84},{"x":2.413,"y":-0.44},{"x":2.458,"y":-0.82},{"x":2.481,"y":-1.51},
{"x":2.526,"y":-1.0},{"x":2.56,"y":-0.72},{"x":2.604,"y":-1.59},{"x":2.756,"y":-1.13},{"x":2.943,"y":-1.59},{"x":3.024,"y":-1.19},
{"x":0.964,"y":-1.92},{"x":1.008,"y":-2.09},{"x":1.032,"y":-2.3},{"x":0.971,"y":-2.6},{"x":1.066,"y":-2.97},{"x":1.219,"y":-3.57},{"x":1.242,"y":-1.63},{"x":1.26,"y":-1.69},{"x":1.28,"y":-2.19},{"x":1.348,"y":-2.17},
{"x":1.286,"y":-3.04},{"x":1.378,"y":-3.95},{"x":1.412,"y":-3.95},{"x":1.409,"y":-1.82},{"x":1.48,"y":-1.42},{"x":1.49,"y":-2.13},{"x":1.483,"y":-2.32},{"x":1.568,"y":-1.76},{"x":1.541,"y":-2.95},{"x":1.558,"y":-4.01},
{"x":1.534,"y":-4.29},{"x":1.585,"y":-4.45},{"x":1.602,"y":-4.58},{"x":1.626,"y":-4.13},{"x":1.653,"y":-2.13},{"x":1.687,"y":-3.61},{"x":1.796,"y":-2.57},{"x":1.813,"y":-4.77},{"x":1.83,"y":-5.23},{"x":1.847,"y":-2.3},
{"x":1.864,"y":-3.39},{"x":1.898,"y":-4.58},{"x":1.925,"y":-3.42},{"x":1.942,"y":-2.38},{"x":1.949,"y":-2.63},{"x":1.959,"y":-3.55},{"x":1.976,"y":-3.07},{"x":2.0,"y":-3.26},{"x":2.026,"y":-4.87},{"x":2.128,"y":-4.55},
{"x":2.108,"y":-4.01},{"x":2.128,"y":-3.39},{"x":2.152,"y":-1.76},{"x":2.179,"y":-2.78},{"x":2.203,"y":-1.84},{"x":2.22,"y":-4.95},{"x":2.23,"y":-4.83},{"x":2.247,"y":-4.26},{"x":2.264,"y":-3.95},{"x":2.264,"y":-5.33},
{"x":2.271,"y":-3.17},{"x":2.332,"y":-4.89},{"x":2.356,"y":-5.43},{"x":2.366,"y":-3.35},{"x":2.373,"y":-1.59},{"x":2.39,"y":-1.94},{"x":2.4,"y":-2.13},{"x":2.407,"y":-5.14},{"x":2.417,"y":-5.96},{"x":2.447,"y":-5.81},
{"x":2.485,"y":-5.96},{"x":2.502,"y":-5.14},{"x":2.509,"y":-3.93},{"x":2.543,"y":-4.73},{"x":2.553,"y":-3.17},{"x":2.56,"y":-3.42},{"x":2.567,"y":-5.77},{"x":2.57,"y":-2.22},{"x":2.577,"y":-1.69},{"x":2.601,"y":-4.3},
{"x":2.611,"y":-3.67},{"x":2.628,"y":-1.44},{"x":2.655,"y":-3.42},{"x":2.652,"y":-6.86},{"x":2.75,"y":-1.67},{"x":2.76,"y":-3.7},{"x":2.811,"y":-6.23},{"x":2.862,"y":-2.82},{"x":2.936,"y":-2.7},{"x":2.936,"y":-3.01},
{"x":2.967,"y":-4.98},{"x":3.069,"y":-3.07},{"x":3.102,"y":-2.67},{"x":3.102,"y":-3.93},{"x":3.177,"y":-2.35},{"x":3.194,"y":-7.52},{"x":3.211,"y":-3.17},{"x":3.221,"y":-4.95},{"x":3.228,"y":-6.11},{"x":3.245,"y":-3.17},
{"x":3.289,"y":-2.57},{"x":3.333,"y":-7.24},{"x":3.367,"y":-4.98},{"x":3.374,"y":-2.26},{"x":3.398,"y":-2.09},{"x":3.418,"y":-3.17},{"x":3.425,"y":-3.39},{"x":3.432,"y":-5.11},{"x":3.442,"y":-5.52},{"x":3.449,"y":-4.01},
{"x":3.493,"y":-2.32},{"x":3.51,"y":-7.34},{"x":3.517,"y":-3.07},{"x":3.517,"y":-4.89},{"x":3.527,"y":-3.93},{"x":3.527,"y":-4.14},{"x":3.534,"y":-4.29},{"x":3.554,"y":-7.62},{"x":3.568,"y":-8.21},{"x":3.561,"y":-2.92},
{"x":3.588,"y":-5.89},{"x":3.605,"y":-6.56},{"x":3.612,"y":-4.1},{"x":3.629,"y":-7.9},{"x":3.629,"y":-3.22},{"x":3.656,"y":-2.3},{"x":3.697,"y":-3.64},{"x":3.707,"y":-3.35},{"x":3.748,"y":-8.15},{"x":3.758,"y":-7.52},
{"x":3.782,"y":-7.36},{"x":3.799,"y":-8.37},{"x":3.826,"y":-8.47},{"x":3.826,"y":-3.17},{"x":3.856,"y":-3.57},{"x":3.85,"y":-7.59},{"x":3.867,"y":-6.36},{"x":3.89,"y":-5.33},{"x":3.9,"y":-5.77},{"x":3.9,"y":-8.53},
{"x":3.917,"y":-7.4},{"x":3.91,"y":-3.35},{"x":3.968,"y":-6.11},{"x":3.975,"y":-6.02},{"x":3.975,"y":-4.85},{"x":3.985,"y":-8.65},{"x":3.992,"y":-9.03},
{"x":3.7,"y":-2.6},{"x":3.78,"y":-2.75},{"x":3.86,"y":-2.8},{"x":3.95,"y":-2.7},{"x":3.98,"y":-2.9},{"x":3.62,"y":-2.45},{"x":3.45,"y":-2.5},{"x":3.88,"y":-2.45},{"x":3.97,"y":-3.1},{"x":3.93,"y":-3.0}
]
},
"bounds":"flush",
"spacing":90.5,
"hconcat":[
{"width":456.5,"height":498.7,"layer":[
 {"data":{"name":"L"},"mark":{"type":"circle","size":30,"color":"#ff0000","opacity":1},
  "encoding":{
   "x":{"field":"x","type":"quantitative","scale":{"domain":[-0.05,1.05],"nice":false,"zero":false},"axis":{"values":[0,1],"format":"d","title":"LRU Cache Position [GiB]","labelPadding":12,"titlePadding":10}},
   "y":{"field":"y","type":"quantitative","scale":{"domain":[-9.87,8.88],"nice":false,"zero":false},"axis":{"values":[-8,-6,-4,-2,0,2,4,6,8],"title":"TTL [h]","labelPadding":10.5,"titlePadding":15}}}},
 {"data":{"values":[{"y":0}]},"mark":{"type":"rule","color":"black","strokeWidth":4.2,"strokeDash":[15.4,6.7]},
  "encoding":{"y":{"field":"y","type":"quantitative","scale":{"domain":[-9.87,8.88],"nice":false,"zero":false}}}},
 {"data":{"values":[{"x":1}]},"mark":{"type":"rule","color":"black","strokeWidth":4.2,"strokeDash":[4.2,6.9]},
  "encoding":{"x":{"field":"x","type":"quantitative","scale":{"domain":[-0.05,1.05],"nice":false,"zero":false}}}},
 {"data":{"values":[{"x":0,"y":8},{"x":0.96,"y":5.12}]},"mark":{"type":"line","color":"#0000ff","strokeWidth":4.2,"strokeDash":[26.7,6.7,4.2,6.7]},
  "encoding":{"x":{"field":"x","type":"quantitative","scale":{"domain":[-0.05,1.05],"nice":false,"zero":false}},"y":{"field":"y","type":"quantitative","scale":{"domain":[-9.87,8.88],"nice":false,"zero":false}}}},
 {"data":{"values":[{"x":1,"y":5}]},"mark":{"type":"point","shape":"M0,0L-2,-0.8L-2,0.8Z","size":324,"angle":10.88,"filled":true,"color":"#0000ff","opacity":1},
  "encoding":{"x":{"field":"x","type":"quantitative","scale":{"domain":[-0.05,1.05],"nice":false,"zero":false}},"y":{"field":"y","type":"quantitative","scale":{"domain":[-9.87,8.88],"nice":false,"zero":false}}}},
 {"data":{"values":[{"x":1,"y":5,"y2":8}]},"mark":{"type":"rule","color":"black","strokeWidth":4},
  "encoding":{"x":{"field":"x","type":"quantitative","scale":{"domain":[-0.05,1.05],"nice":false,"zero":false}},"y":{"field":"y","type":"quantitative","scale":{"domain":[-9.87,8.88],"nice":false,"zero":false}},"y2":{"field":"y2"}}},
 {"data":{"values":[{"x":1,"y":5},{"x":1,"y":8}]},"mark":{"type":"tick","orient":"horizontal","color":"black","size":28,"thickness":3,"opacity":1},
  "encoding":{"x":{"field":"x","type":"quantitative","scale":{"domain":[-0.05,1.05],"nice":false,"zero":false}},"y":{"field":"y","type":"quantitative","scale":{"domain":[-9.87,8.88],"nice":false,"zero":false}}}},
 {"data":{"values":[{"x":0.966,"y":7.78}]},"mark":{"type":"text","text":["Predicted","Eviction","Time"],"align":"right","baseline":"alphabetic","font":"DejaVu Sans","fontSize":24.3,"lineHeight":27.7,"color":"black"},
  "encoding":{"x":{"field":"x","type":"quantitative","scale":{"domain":[-0.05,1.05],"nice":false,"zero":false}},"y":{"field":"y","type":"quantitative","scale":{"domain":[-9.87,8.88],"nice":false,"zero":false}}}}
]},
{"width":456.5,"height":498.7,"layer":[
 {"data":{"name":"R"},"mark":{"type":"circle","size":30,"color":"#ff0000","opacity":1},
  "encoding":{
   "x":{"field":"x","type":"quantitative","scale":{"domain":[-0.2,4.2],"nice":false,"zero":false},"axis":{"values":[0,1,2,3,4],"format":"d","title":"LRU Cache Position [GiB]","labelPadding":12,"titlePadding":10}},
   "y":{"field":"y","type":"quantitative","scale":{"domain":[-9.87,8.88],"nice":false,"zero":false},"axis":{"values":[-8,-6,-4,-2,0,2,4,6,8],"labels":false,"title":"TTL [h]","titlePadding":13.6}}}},
 {"data":{"values":[{"y":0}]},"mark":{"type":"rule","color":"black","strokeWidth":4.2,"strokeDash":[15.4,6.7]},
  "encoding":{"y":{"field":"y","type":"quantitative","scale":{"domain":[-9.87,8.88],"nice":false,"zero":false}}}},
 {"data":{"values":[{"x":4}]},"mark":{"type":"rule","color":"black","strokeWidth":4.2,"strokeDash":[4.2,6.9]},
  "encoding":{"x":{"field":"x","type":"quantitative","scale":{"domain":[-0.2,4.2],"nice":false,"zero":false}}}},
 {"data":{"values":[{"x":0,"y":8},{"x":3.9,"y":-0.79}]},"mark":{"type":"line","color":"#008000","strokeWidth":4.2,"strokeDash":[26.7,6.7,4.2,6.7]},
  "encoding":{"x":{"field":"x","type":"quantitative","scale":{"domain":[-0.2,4.2],"nice":false,"zero":false}},"y":{"field":"y","type":"quantitative","scale":{"domain":[-9.87,8.88],"nice":false,"zero":false}}}},
 {"data":{"values":[{"x":4,"y":-1,"y2":8}]},"mark":{"type":"rule","color":"black","strokeWidth":4},
  "encoding":{"x":{"field":"x","type":"quantitative","scale":{"domain":[-0.2,4.2],"nice":false,"zero":false}},"y":{"field":"y","type":"quantitative","scale":{"domain":[-9.87,8.88],"nice":false,"zero":false}},"y2":{"field":"y2"}}},
 {"data":{"values":[{"x":4,"y":-1},{"x":4,"y":8}]},"mark":{"type":"tick","orient":"horizontal","color":"black","size":28,"thickness":3,"opacity":1},
  "encoding":{"x":{"field":"x","type":"quantitative","scale":{"domain":[-0.2,4.2],"nice":false,"zero":false}},"y":{"field":"y","type":"quantitative","scale":{"domain":[-9.87,8.88],"nice":false,"zero":false}}}},
 {"data":{"values":[{"x":3.55,"y":0}]},"mark":{"type":"point","shape":"M-1,-1L1,1M-1,1L1,-1","size":900,"filled":false,"color":"#008000","strokeWidth":2.2,"opacity":1},
  "encoding":{"x":{"field":"x","type":"quantitative","scale":{"domain":[-0.2,4.2],"nice":false,"zero":false}},"y":{"field":"y","type":"quantitative","scale":{"domain":[-9.87,8.88],"nice":false,"zero":false}}}},
 {"data":{"values":[{"x":3.9,"y":-0.79}]},"mark":{"type":"point","shape":"triangle-up","size":400,"filled":true,"color":"#008000","opacity":1},
  "encoding":{"x":{"field":"x","type":"quantitative","scale":{"domain":[-0.2,4.2],"nice":false,"zero":false}},"y":{"field":"y","type":"quantitative","scale":{"domain":[-9.87,8.88],"nice":false,"zero":false}}}},
 {"data":{"values":[{"x":3.939,"y":4.51}]},"mark":{"type":"text","text":["Predicted","Eviction","Time"],"align":"right","baseline":"alphabetic","font":"DejaVu Sans","fontSize":24.3,"lineHeight":27.7,"color":"black"},
  "encoding":{"x":{"field":"x","type":"quantitative","scale":{"domain":[-0.2,4.2],"nice":false,"zero":false}},"y":{"field":"y","type":"quantitative","scale":{"domain":[-9.87,8.88],"nice":false,"zero":false}}}}
]}
]
}
